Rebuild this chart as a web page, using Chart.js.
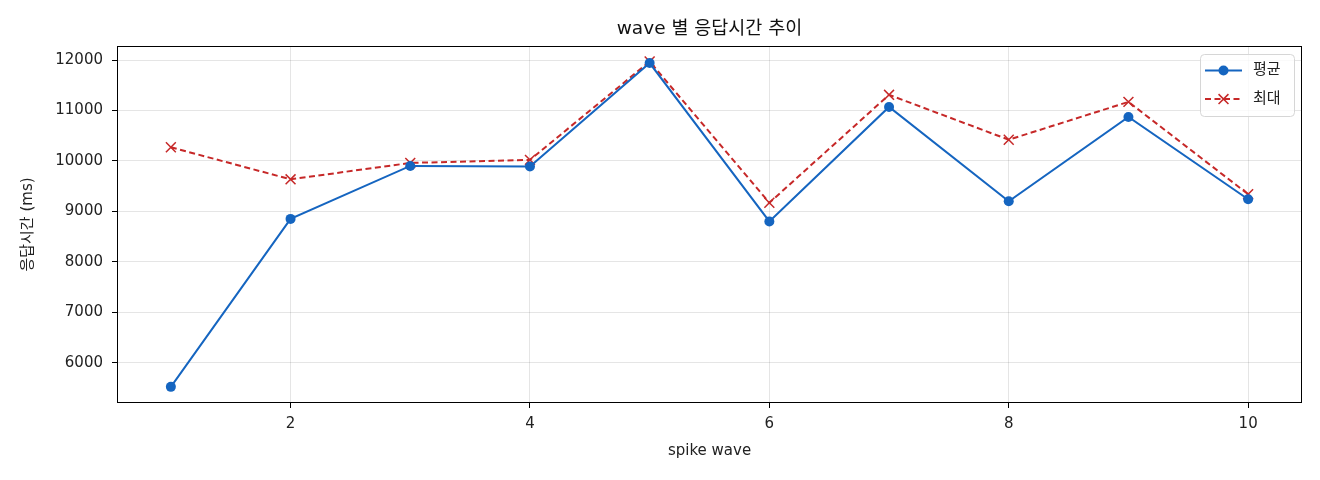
<!DOCTYPE html>
<html>
<head>
<meta charset="utf-8">
<script src="https://cdn.jsdelivr.net/npm/chart.js@4"></script>
<style>
html,body{margin:0;padding:0;background:#fff;}
#wrap{width:1320px;height:480px;}
</style>
</head>
<body>
<div id="wrap"><canvas id="c" width="1320" height="480"></canvas></div>
<script>
const chartTitle = 'wave 별 응답시간 추이';
const xTitle = 'spike wave';
const yTitle = '응답시간 (ms)';
const waves = [1, 2, 3, 4, 5, 6, 7, 8, 9, 10];
const avgMs = [5520, 8850, 9900, 9890, 11940, 8800, 11070, 9200, 10870, 9240];
const maxMs = [10270, 9635, 9960, 10020, 11970, 9170, 11310, 10420, 11170, 9340];
const seriesNames = ['평균', '최대'];
const xTicks = [2, 4, 6, 8, 10];
const yTicks = [6000, 7000, 8000, 9000, 10000, 11000, 12000];

const FONT = '"DejaVu Sans", "Noto Sans CJK KR", sans-serif';
const BLUE = '#1565C0';
const RED = '#C62828';

const titlePlugin = {
  id: 'axesTitle',
  afterDraw(chart) {
    const {ctx, chartArea: a} = chart;
    ctx.save();
    ctx.fillStyle = '#111';
    ctx.font = '18.5px ' + FONT;
    ctx.textAlign = 'center';
    ctx.textBaseline = 'middle';
    ctx.fillText(chartTitle, (a.left + a.right) / 2, 29);
    ctx.restore();
  }
};

const framePlugin = {
  id: 'frame',
  afterDatasetsDraw(chart) {
    const {ctx, chartArea: a} = chart;
    ctx.save();
    ctx.strokeStyle = '#000';
    ctx.lineWidth = 1;
    ctx.strokeRect(Math.round(a.left) + 0.5, Math.round(a.top) + 0.5,
      Math.round(a.right - a.left) - 1, Math.round(a.bottom - a.top) - 1);
    ctx.restore();
  }
};

const legendPlugin = {
  id: 'boxLegend',
  afterDraw(chart) {
    const {ctx, chartArea: a} = chart;
    const bw = 94, bh = 62;
    const bx = a.right - 8 - bw, by = a.top + 8;
    ctx.save();
    ctx.beginPath();
    ctx.roundRect(bx + 0.5, by + 0.5, bw, bh, 4);
    ctx.fillStyle = 'rgba(255,255,255,0.8)';
    ctx.fill();
    ctx.strokeStyle = '#d6d6d6';
    ctx.lineWidth = 1;
    ctx.stroke();
    chart.data.datasets.forEach((ds, i) => {
      const y = by + 16.5 + i * 28.6;
      const x0 = bx + 5, x1 = bx + 42;
      ctx.strokeStyle = ds.borderColor;
      ctx.lineWidth = ds.borderWidth;
      ctx.setLineDash(ds.borderDash || []);
      ctx.beginPath();
      ctx.moveTo(x0, y);
      ctx.lineTo(x1, y);
      ctx.stroke();
      ctx.setLineDash([]);
      const cx = (x0 + x1) / 2;
      if (ds.pointStyle === 'circle') {
        ctx.fillStyle = ds.pointBackgroundColor;
        ctx.beginPath();
        ctx.arc(cx, y, ds.pointRadius, 0, Math.PI * 2);
        ctx.fill();
      } else {
        const r = ds.pointRadius * 0.707;
        ctx.strokeStyle = ds.pointBorderColor;
        ctx.lineWidth = ds.pointBorderWidth;
        ctx.beginPath();
        ctx.moveTo(cx - r, y - r); ctx.lineTo(cx + r, y + r);
        ctx.moveTo(cx - r, y + r); ctx.lineTo(cx + r, y - r);
        ctx.stroke();
      }
      ctx.fillStyle = '#222';
      ctx.font = '15px ' + FONT;
      ctx.textBaseline = 'middle';
      ctx.textAlign = 'left';
      ctx.fillText(ds.label, bx + 53, y);
    });
    ctx.restore();
  }
};

const ctx = document.getElementById('c').getContext('2d');
new Chart(ctx, {
  type: 'line',
  data: {
    datasets: [
      {
        label: seriesNames[0],
        data: waves.map((w, i) => ({x: w, y: avgMs[i]})),
        borderColor: BLUE,
        backgroundColor: BLUE,
        borderWidth: 2,
        pointStyle: 'circle',
        pointRadius: 5,
        pointBackgroundColor: BLUE,
        pointBorderColor: BLUE,
        pointBorderWidth: 0,
        fill: false,
        tension: 0
      },
      {
        label: seriesNames[1],
        data: waves.map((w, i) => ({x: w, y: maxMs[i]})),
        borderColor: RED,
        backgroundColor: RED,
        borderWidth: 2,
        borderDash: [6, 3.5],
        pointStyle: 'crossRot',
        pointRadius: 7,
        pointBackgroundColor: RED,
        pointBorderColor: RED,
        pointBorderWidth: 1.5,
        fill: false,
        tension: 0
      }
    ]
  },
  options: {
    responsive: false,
    animation: false,
    devicePixelRatio: 1,
    layout: {padding: {left: 0, right: 18, top: 46, bottom: 0}},
    plugins: {
      legend: {display: false},
      tooltip: {enabled: false},
      title: {display: false}
    },
    scales: {
      x: {
        type: 'linear',
        min: 0.55,
        max: 10.45,
        afterBuildTicks(scale) { scale.ticks = xTicks.map(v => ({value: v})); },
        afterFit(scale) { scale.height = 77; },
        border: {display: false},
        grid: {color: 'rgba(0,0,0,0.1)', tickColor: '#000', tickLength: 5, drawTicks: true},
        ticks: {color: '#222', padding: 7, font: {family: FONT, size: 15}, maxRotation: 0},
        title: {display: true, text: xTitle, color: '#222',
          font: {family: FONT, size: 15, lineHeight: 1.2}, padding: {top: 0, bottom: 20}}
      },
      y: {
        type: 'linear',
        min: 5200,
        max: 12278,
        afterBuildTicks(scale) { scale.ticks = yTicks.map(v => ({value: v})); },
        afterFit(scale) { scale.width = 117; },
        border: {display: false},
        grid: {color: 'rgba(0,0,0,0.1)', tickColor: '#000', tickLength: 5, drawTicks: true},
        ticks: {color: '#222', padding: 9, font: {family: FONT, size: 15}, callback: v => String(v)},
        title: {display: true, text: yTitle, color: '#222',
          font: {family: FONT, size: 15, lineHeight: 1.2}, padding: {top: 19, bottom: 0}}
      }
    }
  },
  plugins: [framePlugin, legendPlugin, titlePlugin]
});
</script>
</body>
</html>
